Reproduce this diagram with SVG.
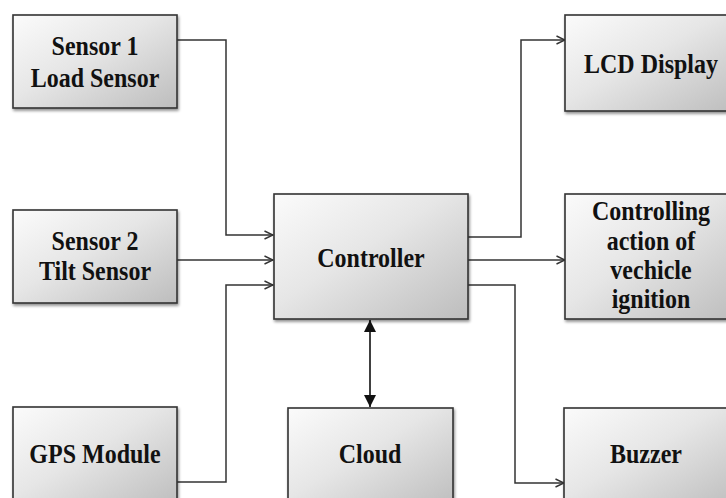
<svg xmlns="http://www.w3.org/2000/svg" width="726" height="498" viewBox="0 0 726 498">
<defs>
<linearGradient id="g" x1="0" y1="0" x2="1" y2="1">
<stop offset="0" stop-color="#fbfbfb"/>
<stop offset="0.45" stop-color="#e6e6e6"/>
<stop offset="1" stop-color="#bdbdbd"/>
</linearGradient>
<filter id="sh" x="-10%" y="-10%" width="130%" height="130%">
<feGaussianBlur in="SourceAlpha" stdDeviation="1.5"/>
<feOffset dx="1" dy="2" result="b"/>
<feComponentTransfer><feFuncA type="linear" slope="0.45"/></feComponentTransfer>
<feMerge><feMergeNode/><feMergeNode in="SourceGraphic"/></feMerge>
</filter>
<marker id="open" viewBox="0 0 10 10" refX="9.5" refY="5" markerWidth="10" markerHeight="10" markerUnits="userSpaceOnUse" orient="auto">
<path d="M1,1 L9.5,5 L1,9" fill="none" stroke="#333" stroke-width="1.4"/>
</marker>
<marker id="tri" viewBox="0 0 12 12" refX="12" refY="6" markerWidth="12" markerHeight="12" markerUnits="userSpaceOnUse" orient="auto-start-reverse">
<path d="M0,0 L12,6 L0,12 Z" fill="#111"/>
</marker>
</defs>
<style>
.box{fill:url(#g);stroke:#333;stroke-width:1.6;filter:url(#sh)}
.t{font-family:'Liberation Serif','Times New Roman',serif;font-weight:700;font-size:24px;fill:#111;text-anchor:middle}
.c{fill:none;stroke:#333;stroke-width:1.5}
</style>
<g id="connectors">
<path class="c" d="M177,40 H226 V235 H273" marker-end="url(#open)"/>
<path class="c" d="M177,260 H273" marker-end="url(#open)"/>
<path class="c" d="M177,482 H226 V285 H273" marker-end="url(#open)"/>
<path class="c" d="M468,237 H521 V40 H565" marker-end="url(#open)"/>
<path class="c" d="M468,260 H565" marker-end="url(#open)"/>
<path class="c" d="M468,285 H515 V483 H564" marker-end="url(#open)"/>
<path d="M370,320 V407" fill="none" stroke="#111" stroke-width="1.6" marker-start="url(#tri)" marker-end="url(#tri)"/>
</g>
<g id="sensor1">
<rect class="box" x="13" y="15" width="164" height="93"/>
<text class="t" font-family="Liberation Serif, serif" transform="translate(95,55) scale(1,1.12)">Sensor 1</text>
<text class="t" font-family="Liberation Serif, serif" transform="translate(95,87) scale(1,1.12)">Load Sensor</text>
</g>
<g id="sensor2">
<rect class="box" x="13" y="210" width="164" height="93"/>
<text class="t" transform="translate(95,250) scale(1,1.12)">Sensor 2</text>
<text class="t" transform="translate(95,280) scale(1,1.12)">Tilt Sensor</text>
</g>
<g id="gps">
<rect class="box" x="13" y="407" width="164" height="100"/>
<text class="t" transform="translate(95,463) scale(1,1.12)">GPS Module</text>
</g>
<g id="controller">
<rect class="box" x="274" y="194" width="194" height="125"/>
<text class="t" transform="translate(371,267) scale(1,1.12)">Controller</text>
</g>
<g id="cloud">
<rect class="box" x="288" y="408" width="165" height="100"/>
<text class="t" transform="translate(370,463) scale(1,1.12)">Cloud</text>
</g>
<g id="lcd">
<rect class="box" x="565" y="15" width="172" height="96"/>
<text class="t" transform="translate(651,73) scale(1,1.12)">LCD Display</text>
</g>
<g id="ignition">
<rect class="box" x="565" y="194" width="172" height="125"/>
<text class="t" transform="translate(651,220) scale(1,1.12)">Controlling</text>
<text class="t" transform="translate(651,250) scale(1,1.12)">action of</text>
<text class="t" transform="translate(651,279) scale(1,1.12)">vechicle</text>
<text class="t" transform="translate(651,308) scale(1,1.12)">ignition</text>
</g>
<g id="buzzer">
<rect class="box" x="564" y="408" width="172" height="100"/>
<text class="t" transform="translate(646,463) scale(1,1.12)">Buzzer</text>
</g>
</svg>
